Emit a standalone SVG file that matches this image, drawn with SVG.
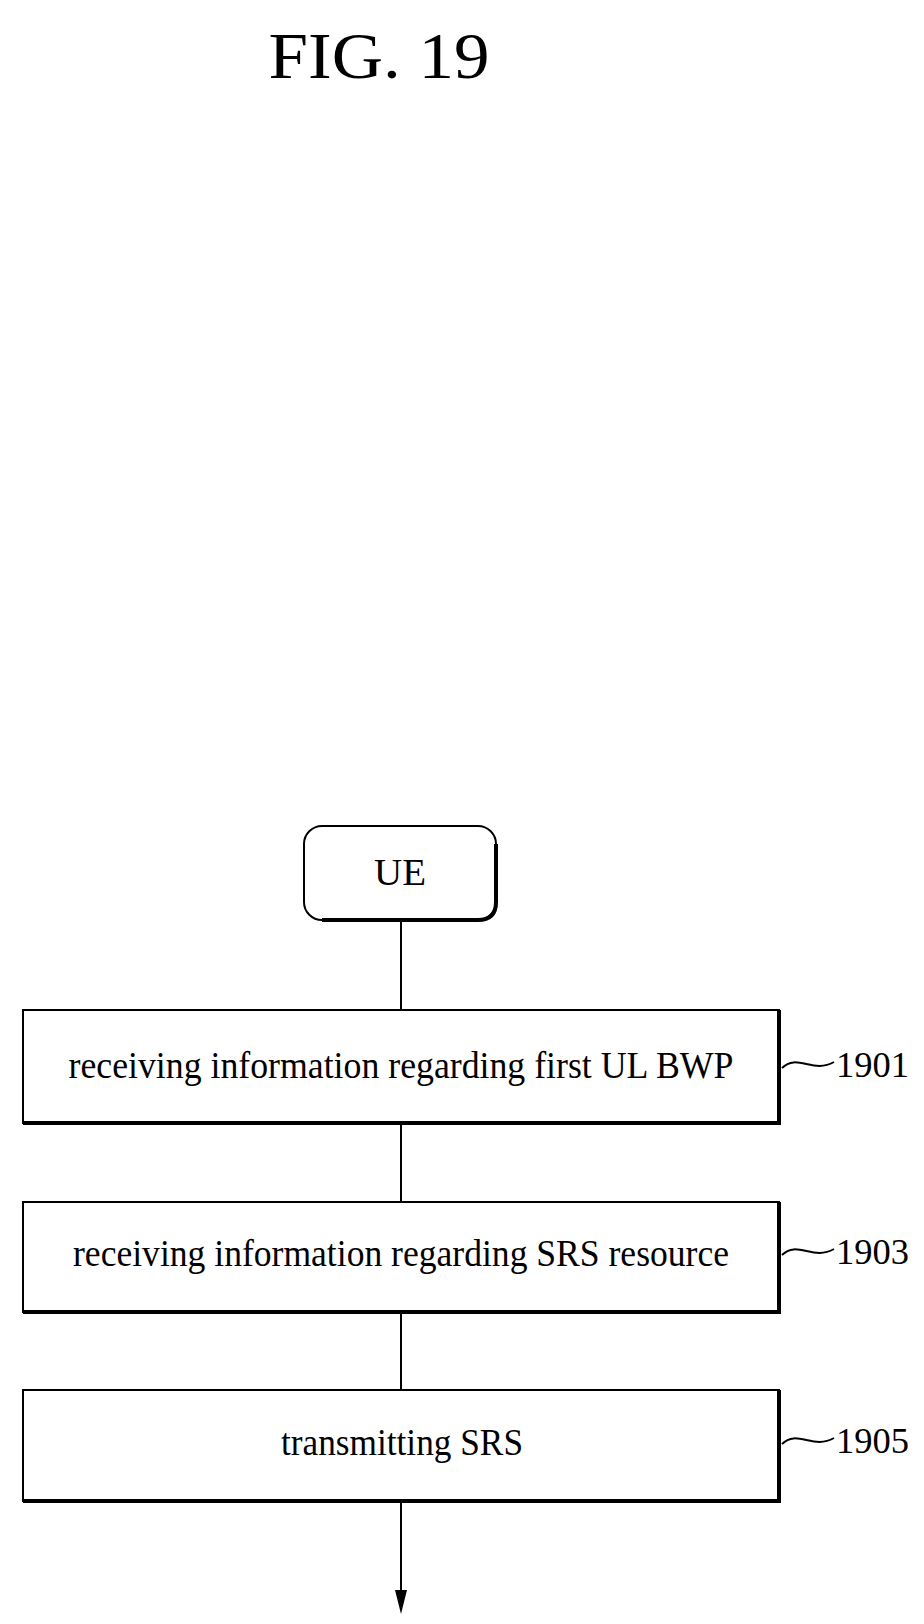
<svg xmlns="http://www.w3.org/2000/svg" width="924" height="1624" viewBox="0 0 924 1624">
<style>
text{font-family:"Liberation Serif","Times New Roman",serif;fill:#000}
.box{fill:#fff;stroke:#000;stroke-width:2}
.sh{fill:none;stroke:#000;stroke-width:4}
.c{stroke:#000;stroke-width:2;fill:none}
.t{font-size:38px;text-anchor:middle}
.r{font-size:36px}
</style>
<rect width="924" height="1624" fill="#fff"/>
<text x="379" y="78" font-size="66" text-anchor="middle" textLength="221" lengthAdjust="spacingAndGlyphs">FIG. 19</text>
<g id="connectors">
<line class="c" x1="401" y1="921" x2="401" y2="1009"/>
<line class="c" x1="401" y1="1124" x2="401" y2="1201"/>
<line class="c" x1="401" y1="1313" x2="401" y2="1389"/>
<line class="c" x1="401" y1="1502" x2="401" y2="1600"/>
<polygon points="395,1590 407,1590 401,1614" fill="#000"/>
</g>
<g id="ue">
<rect class="box" x="304" y="826" width="192" height="94" rx="18"/>
<path class="sh" d="M322,920 H478 Q496,920 496,902 V844"/>
<text class="t" x="400" y="885" textLength="52" lengthAdjust="spacingAndGlyphs">UE</text>
</g>
<g id="n1901">
<rect class="box" x="23" y="1010" width="756" height="113"/>
<path class="sh" d="M23,1123 H779 V1010"/>
<text class="t" x="401" y="1078" textLength="665" lengthAdjust="spacingAndGlyphs">receiving information regarding first UL BWP</text>
<path class="c" d="M782,1068 C797,1053 813,1074 834,1062"/>
<text class="r" x="836" y="1077" textLength="73" lengthAdjust="spacingAndGlyphs">1901</text>
</g>
<g id="n1903">
<rect class="box" x="23" y="1202" width="756" height="110"/>
<path class="sh" d="M23,1312 H779 V1202"/>
<text class="t" x="401" y="1266" textLength="656" lengthAdjust="spacingAndGlyphs">receiving information regarding SRS resource</text>
<path class="c" d="M782,1255 C797,1240 813,1261 834,1249"/>
<text class="r" x="836" y="1264" textLength="73" lengthAdjust="spacingAndGlyphs">1903</text>
</g>
<g id="n1905">
<rect class="box" x="23" y="1390" width="756" height="111"/>
<path class="sh" d="M23,1501 H779 V1390"/>
<text class="t" x="402" y="1455" textLength="242" lengthAdjust="spacingAndGlyphs">transmitting SRS</text>
<path class="c" d="M782,1444 C797,1429 813,1450 834,1438"/>
<text class="r" x="836" y="1453" textLength="73" lengthAdjust="spacingAndGlyphs">1905</text>
</g>
</svg>
